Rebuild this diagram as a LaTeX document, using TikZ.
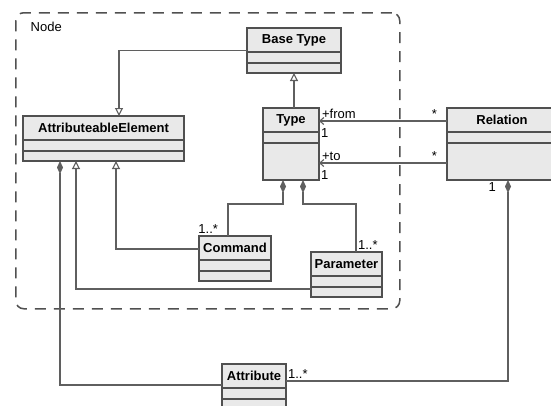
\documentclass[tikz,border=0pt]{standalone}
\usepackage{fontspec}
\setmainfont{Liberation Sans}
\usetikzlibrary{arrows.meta}

\definecolor{boxfill}{RGB}{233,233,233}
\definecolor{boxline}{RGB}{80,80,80}
\definecolor{wire}{RGB}{95,95,95}

\tikzset{
  classbox/.style={draw=boxline, fill=boxfill, line width=1.2pt, outer sep=0pt, inner sep=0pt},
  classline/.style={draw=boxline, line width=1.2pt},
  classname/.style={font=\fontsize{13}{15}\selectfont\bfseries, inner sep=0pt},
  wirelabel/.style={font=\fontsize{13}{15}\selectfont, inner sep=1.5pt},
  connector/.style={draw=wire, line width=1.1pt},
  inherit/.style={connector, -{Triangle[open, length=8pt, width=8pt, fill=white]}},
  compose/.style={connector, {Diamond[length=13pt, width=6pt, fill=wire]}-},
  navigate/.style={connector, -{Straight Barb[length=4pt, width=7pt]}},
}

% class box: name, top left, width, height, title
\newcommand{\umlclass}[5]{%
  \node[classbox, minimum width=#3pt, minimum height=#4pt, anchor=north west] (#1) at (#2) {};
  \node[classname] (#1-name) at ([yshift=-12pt]#1.north) {#5};
  \draw[classline] ([yshift=-24pt]#1.north west) -- ([yshift=-24pt]#1.north east);
  \draw[classline] ([yshift=-35pt]#1.north west) -- ([yshift=-35pt]#1.north east);
}

\begin{document}
\begin{tikzpicture}[x=1pt, y=-1pt]
  \useasboundingbox (0,0) rectangle (551,405);
  \clip (0,0) rectangle (551,405);
  % Node package
  \node[draw=boxline, line width=1.5pt, dash pattern=on 11pt off 8pt, rounded corners=8pt,
        minimum width=384pt, minimum height=296pt, anchor=north west, inner sep=0pt] (package) at (15,12) {};
  \node[wirelabel, anchor=west] (package-name) at ([xshift=14pt, yshift=-15pt]package.north west) {Node};
  % classes
  \umlclass{basetype}{247,28}{94}{45}{Base Type}
  \umlclass{attrel}{23,116}{161}{45}{AttributeableElement}
  \umlclass{type}{263,108}{56}{72}{Type}
  \umlclass{relation}{447,108}{110}{72}{Relation}
  \umlclass{command}{199,236}{72}{45}{Command}
  \umlclass{parameter}{311,252}{71}{45}{Parameter}
  \umlclass{attribute}{222,364}{64}{60}{Attribute}
  % generalizations
  \draw[inherit] (basetype.west) -| ([xshift=15.5pt]attrel.north);
  \draw[inherit] (basetype.south |- type.north) -- (basetype.south);
  \draw[inherit] ([yshift=-13pt]command.north west) -| ([xshift=12.5pt]attrel.south);
  \draw[inherit] ([yshift=-37pt]parameter.north west) -| ([xshift=-27.5pt]attrel.south);
  % associations Relation -> Type
  \draw[navigate] ([yshift=-13pt]relation.north west) -- ([yshift=-13pt]type.north east)
    node[wirelabel, pos=0, above left, xshift=-8pt] {*}
    node[wirelabel, above right, xshift=1pt] {+from}
    node[wirelabel, below right, yshift=-6pt] {1};
  \draw[navigate] ([yshift=17pt]relation.south west) -- ([yshift=17pt]type.south east)
    node[wirelabel, pos=0, above left, xshift=-8pt] {*}
    node[wirelabel, above right, xshift=1pt] {+to}
    node[wirelabel, below right, yshift=-6pt] {1};
  % compositions
  \draw[compose] ([xshift=-8pt]type.south) -- ++(0,24) -| ([xshift=-7pt]command.north)
    node[wirelabel, above left, xshift=-8pt] {1..*};
  \draw[compose] ([xshift=12pt]type.south) -- ++(0,24) -| ([xshift=9.5pt]parameter.north)
    node[wirelabel, above right] {1..*};
  \draw[compose] ([xshift=-43.5pt]attrel.south) |- ([yshift=-21pt]attribute.north west);
  \draw[compose] ([xshift=6pt]relation.south) |- ([yshift=-17pt]attribute.north east)
    node[wirelabel, pos=0, below left, xshift=-10pt] {1}
    node[wirelabel, above right] {1..*};
\end{tikzpicture}
\end{document}
